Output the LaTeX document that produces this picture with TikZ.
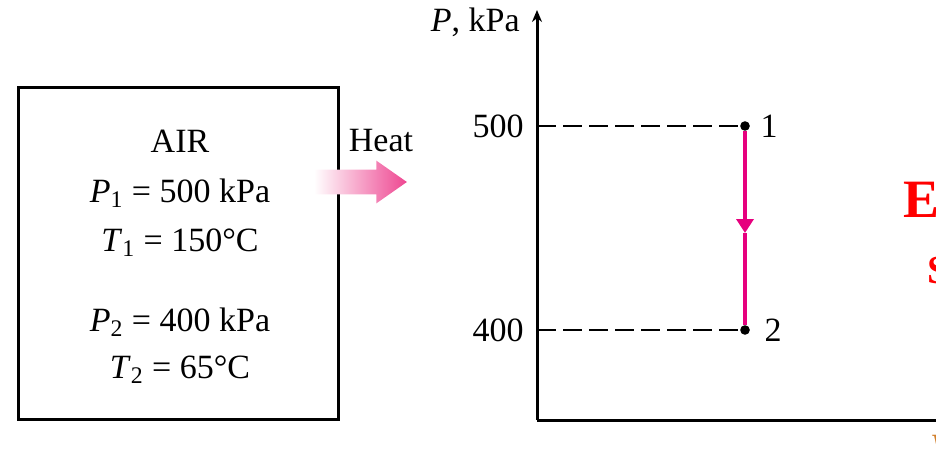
\documentclass[tikz,border=0pt]{standalone}
\usepackage{fontspec}
\setmainfont{Liberation Serif}
\usetikzlibrary{arrows.meta, shapes.arrows, positioning}
\definecolor{procpink}{RGB}{230,0,126}
\definecolor{heatpink}{RGB}{238,70,145}
\definecolor{notered}{RGB}{255,0,0}

\begin{document}
\begin{tikzpicture}[
        x=0.5pt, y=-0.5pt,
        font=\fontsize{17}{20}\selectfont,
        axis/.style={line width=1.5pt},
        guide/.style={line width=1.4pt, dash pattern=on 9.5pt off 3.5pt},
        statept/.style={circle, fill=black, inner sep=0pt, minimum size=4.8pt},
        process/.style={procpink, line width=1.7pt},
        sysbox/.style={draw=black, line width=1.5pt, minimum width=160pt, minimum height=166pt},
        heatarrow/.style={single arrow, inner xsep=0pt, inner ysep=6pt,
                          single arrow head extend=4.5pt, single arrow tip angle=70,
                          minimum height=46.5pt, left color=white, right color=heatpink},
        mark/.style={font=\fontsize{#1}{#1}\selectfont\bfseries, text=notered, anchor=west, inner sep=0pt},
    ]
    \useasboundingbox (0,0) rectangle (936,460);

    % system: air in a closed box
    \node[sysbox] (sys) at (178.5,253.5) {};
    \node (air) at (180,141) {AIR};
    \node (pone) at (180,193) {\textit{P}\textsubscript{1} = 500 kPa};
    \node (tone) at (180,243) {\textit{T}\textsubscript{1} = 150°C};
    \node (ptwo) at (180,322) {\textit{P}\textsubscript{2} = 400 kPa};
    \node (ttwo) at (180,370) {\textit{T}\textsubscript{2} = 65°C};

    % heat leaving the system
    \node[heatarrow] (heat) at (351.5,182) {};
    \node (heatlbl) at (381,141) {Heat};

    % P axis and V axis
    \coordinate (origin) at (537,420);
    \coordinate (ptop) at (537,10);
    \coordinate (vend) at (945,420);
    \draw[axis, -{Stealth[length=6pt, width=5pt]}] (origin) -- (ptop);
    \draw[axis] (origin) -- (vend);
    \node[anchor=east, inner sep=1pt] (plbl) at (522,22) {\textit{P}, kPa};

    % states 1 and 2
    \coordinate (yfive) at (537,126);
    \coordinate (yfour) at (537,330);
    \node[statept] (s1) at (745,126) {};
    \node[statept] (s2) at (745,330) {};
    \node[anchor=east, inner sep=1pt] (tfive) at (526,126) {500};
    \node[anchor=east, inner sep=1pt] (tfour) at (526,330) {400};
    \node[right=5pt of s1, inner sep=0pt] (l1) {1};
    \node[right=7pt of s2, inner sep=0pt] (l2) {2};
    \draw[guide] (yfive) -- (s1);
    \draw[guide] (yfour) -- (s2);

    % constant-volume cooling 1 -> 2
    \coordinate (mid) at (745,233);
    \draw[process, -{Triangle[length=7pt, width=8.5pt]}] (s1) -- (mid);
    \draw[process] (mid) -- (s2);

    % cut-off text at the right edge
    \node[mark=27] (ex) at (903,200) {E};
    \node[mark=20] (so) at (927,270) {S};
    \node[anchor=west, inner sep=0pt, text=brown!70!orange] (vlbl) at (930,447) {\textit{V}};
\end{tikzpicture}
\end{document}
